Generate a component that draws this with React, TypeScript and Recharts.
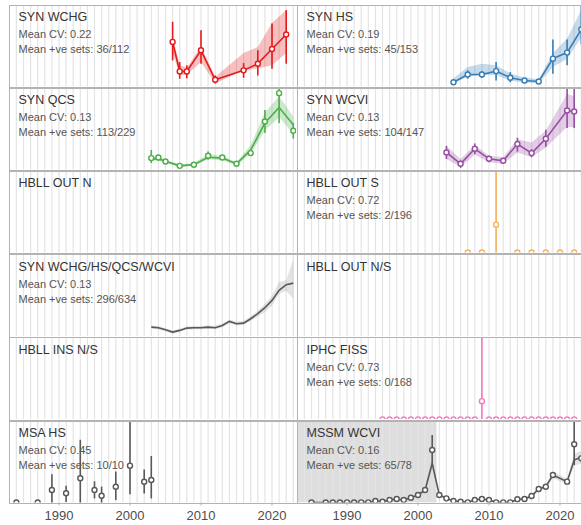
import React from 'react';
import { ComposedChart, Line, Area, XAxis, YAxis, ErrorBar, ReferenceLine, ReferenceArea } from 'recharts';

const X_MIN = 1983.1;
const X_MAX = 2023.45;
const AXIS_TICKS = [1990, 2000, 2010, 2020];
const GRID_YEARS = [1984, 1985, 1986, 1987, 1988, 1989, 1990, 1991, 1992, 1993, 1994, 1995, 1996, 1997, 1998, 1999, 2000, 2001, 2002, 2003, 2004, 2005, 2006, 2007, 2008, 2009, 2010, 2011, 2012, 2013, 2014, 2015, 2016, 2017, 2018, 2019, 2020, 2021, 2022, 2023];

// ---- SYN WCHG ----
const wchgYears = [2006, 2007, 2008, 2010, 2012, 2016, 2018, 2020, 2022];
const wchgPt = [54.7, 18.5, 18.5, 44.4, 8.3, 19.8, 28, 46, 63.8];
const wchgPtLo = [32, 9.5, 10, 28, 3.7, 10.7, 13.6, 21.9, 28];
const wchgPtHi = [79.4, 30, 26, 69, 13.6, 28.8, 44.4, 77.4, 93.8];
const wchgLine = [54.7, 18.5, 18.5, 44.4, 8.3, 19.8, 28, 46, 63.8];
const wchgLo = [42, 14, 14, 30, 4, 20, 22, 26, 41];
const wchgHi = [61, 26, 23, 49, 12, 41, 48.5, 78, 94];

// ---- SYN HS ----
const hsYears = [2005, 2007, 2009, 2011, 2013, 2015, 2017, 2019, 2021, 2023];
const hsPt = [5.3, 14.8, 14.8, 18.9, 10.7, 7.4, 6.2, 34.2, 41.6, 70];
const hsPtLo = [3, 9.5, 10.5, 7.4, 5.3, 5, 4, 15.7, 26, 52];
const hsPtHi = [8, 19.8, 19, 30, 17.7, 10, 8.5, 57.7, 57.7, 115];
const hsLine = [5.3, 14.8, 14.8, 18.9, 10.7, 7.4, 6.2, 34.2, 41.6, 70];
const hsLo = [4, 12, 14, 14, 7, 5, 4, 24, 34, 60];
const hsHi = [10, 24, 28, 26, 16, 11, 9, 41, 59, 94];

// ---- SYN QCS ----
const qcsYears = [2003, 2004, 2005, 2007, 2009, 2011, 2013, 2015, 2017, 2019, 2021, 2023];
const qcsPt = [14, 14.7, 9.8, 4.5, 5.8, 16.8, 14.7, 7, 20.1, 58.9, 93.7, 47.5];
const qcsPtLo = [7.9, 11, 7, 2.5, 4, 12, 12, 5, 17, 44.7, 57, 38];
const qcsPtHi = [24, 18, 12, 6.5, 8, 22, 17.5, 9, 24, 73, 105, 57];
const qcsLine = [13, 13, 10, 4.5, 6, 15, 14, 7, 24, 57, 76, 55];
const qcsLo = [11, 11, 8, 3, 4.5, 12.5, 11.5, 5, 19, 48, 64, 44];
const qcsHi = [16, 16, 12, 6.5, 8, 19, 17, 9, 30, 70, 90, 65];

// ---- SYN WCVI ----
const wcviYears = [2004, 2006, 2008, 2010, 2012, 2014, 2016, 2018, 2021, 2022];
const wcviPt = [20.9, 7, 25.4, 13.1, 10.7, 31.2, 20.1, 37.7, 72.4, 71.2];
const wcviPtLo = [13, 2, 19, 9, 7, 22, 15, 28, 50.8, 50.8];
const wcviPtHi = [29, 11, 32, 17, 14, 39, 25, 48.7, 105, 105];
const wcviLine = [20.9, 7, 25.4, 13.1, 10.7, 31.2, 20.1, 37.7, 72.4, 71.2];
const wcviLo = [13, 3, 18, 9, 7, 21, 15, 27, 52, 52];
const wcviHi = [29, 13, 30, 17, 15, 37, 33, 48, 93, 90];

// ---- HBLL OUT S ----
const hbllSYears = [2007, 2009, 2011, 2014, 2016, 2018, 2020, 2022];
const hbllSPt = [0, 0, 34.2, 0, 0, 0, 0, 0];
const hbllSPtLo = [0, 0, 0, 0, 0, 0, 0, 0];
const hbllSPtHi = [0, 0, 110, 0, 0, 0, 0, 0];

// ---- SYN WCHG/HS/QCS/WCVI ----
const synYears = [2003, 2004, 2005, 2006, 2007, 2008, 2009, 2010, 2011, 2012, 2013, 2014, 2015, 2016, 2017, 2018, 2019, 2020, 2021, 2022, 2023];
const synLine = [11.5, 10.8, 8.3, 5.4, 7.5, 10.3, 10.8, 10.8, 11.5, 10.8, 13.6, 18.5, 15.7, 16.4, 21.8, 28, 35.3, 44.3, 56.6, 63.6, 65.5];
const synLo = [9.5, 9, 6.5, 3.5, 5.5, 8.5, 9, 9, 9.5, 9, 11.5, 16, 13.5, 14, 19, 24.5, 30, 38, 52, 56, 46];
const synHi = [13.5, 12.8, 10, 7.5, 9.5, 12.3, 12.8, 13, 13.5, 12.8, 15.8, 21, 18, 19, 25, 31.5, 40, 50, 67, 69, 95];

// ---- IPHC FISS ----
const iphcYears = [1995, 1996, 1997, 1998, 1999, 2000, 2001, 2002, 2003, 2004, 2005, 2006, 2007, 2008, 2009, 2010, 2011, 2012, 2013, 2014, 2015, 2016, 2017, 2018, 2019, 2020, 2021, 2022];
const iphcPt = [0, 0, 0, 0, 0, 0, 0, 0, 0, 0, 0, 0, 0, 0, 22.5, 0, 0, 0, 0, 0, 0, 0, 0, 0, 0, 0, 0, 0];
const iphcPtLo = [0, 0, 0, 0, 0, 0, 0, 0, 0, 0, 0, 0, 0, 0, 0, 0, 0, 0, 0, 0, 0, 0, 0, 0, 0, 0, 0, 0];
const iphcPtHi = [0, 0, 0, 0, 0, 0, 0, 0, 0, 0, 0, 0, 0, 0, 110, 0, 0, 0, 0, 0, 0, 0, 0, 0, 0, 0, 0, 0];

// ---- MSA HS ----
const msaYears = [1984, 1987, 1989, 1991, 1993, 1995, 1996, 1998, 2000, 2002, 2003];
const msaPt = [0, 0, 15.3, 11.3, 29.7, 15.3, 8.3, 19.4, 45.2, 25.5, 27.6];
const msaPtLo = [0, 0, 0, 0.5, 0, 5, 0, 3, 10, 11, 5];
const msaPtHi = [0, 0, 34.7, 20.6, 77, 26, 19.5, 38, 100, 40.5, 57];

// ---- MSSM WCVI ----
const mssmYears = [1985, 1987, 1988, 1989, 1990, 1991, 1992, 1993, 1994, 1995, 1996, 1997, 1998, 1999, 2000, 2001, 2002, 2003, 2004, 2005, 2006, 2007, 2008, 2009, 2010, 2011, 2012, 2013, 2014, 2015, 2016, 2017, 2018, 2019, 2021, 2022, 2023];
const mssmPt = [0, 0, 0, 0, 0.2, 0, 0.2, 0.2, 1.8, 1, 3.1, 4.3, 3.1, 5.9, 9.2, 15.3, 64.4, 9.2, 5.1, 1.8, 1, 0.2, 3.1, 4.3, 3.1, 0.2, 0.2, 0.2, 3.9, 4.3, 8, 16.6, 19.4, 33.7, 25.6, 71.4, 54.2];
const mssmPtLo = [0, 0, 0, 0, 0.2, 0, 0.2, 0.2, 1.8, 1, 3.1, 4.3, 3.1, 5.9, 9.2, 15.3, 46, 9.2, 5.1, 1.8, 1, 0.2, 3.1, 4.3, 3.1, 0.2, 0.2, 0.2, 3.9, 4.3, 8, 16.6, 19.4, 33.7, 25.6, 46, 54.2];
const mssmPtHi = [0, 0, 0, 0, 0.2, 0, 0.2, 0.2, 1.8, 1, 3.1, 4.3, 3.1, 5.9, 9.2, 15.3, 82.8, 9.2, 5.1, 1.8, 1, 0.2, 3.1, 4.3, 3.1, 0.2, 0.2, 0.2, 3.9, 4.3, 8, 16.6, 19.4, 33.7, 25.6, 105, 54.2];
const mssmLine = [0, 0, 0, 0, 0.2, 0, 0.2, 0.2, 1.8, 1, 3.1, 4.3, 3.1, 5.9, 9.2, 15.3, 48, 9.2, 5.1, 1.8, 1, 0.2, 3.1, 4.3, 3.1, 0.2, 0.2, 0.2, 3.9, 4.3, 8, 16.6, 19.4, 33.7, 25.6, 52, 56];
const mssmLo = [0, 0, 0, 0, 0, 0, 0, 0, 1, 0.5, 2, 3, 2, 4.5, 7.5, 13, 42, 7.5, 4, 1, 0.5, 0, 2, 3, 2, 0, 0, 0, 3, 3, 6.5, 14.5, 17, 30, 22, 45, 48];
const mssmHi = [1, 1, 1, 1, 1.2, 1, 1.2, 1.2, 3, 2.5, 4.5, 6, 4.5, 7.5, 11, 18, 55, 11, 6.5, 3, 2.5, 1.5, 4.5, 6, 4.5, 1.5, 1.5, 1.5, 5.5, 6, 10, 19, 22, 38, 29, 60, 63];
const mssmShadeTo = 2002.6;

type Panel = {
  title: string;
  cv?: string;
  sets?: string;
  col: number;
  row: number;
  color: string;
  years?: number[];
  pt?: number[];
  ptLo?: number[];
  ptHi?: number[];
  line?: number[];
  lo?: number[];
  hi?: number[];
  shadeTo?: number;
};

const panels: Panel[] = [
  { title: 'SYN WCHG', cv: 'Mean CV: 0.22', sets: 'Mean +ve sets: 36/112', col: 0, row: 0, color: '#E41A1C', years: wchgYears, pt: wchgPt, ptLo: wchgPtLo, ptHi: wchgPtHi, line: wchgLine, lo: wchgLo, hi: wchgHi },
  { title: 'SYN HS', cv: 'Mean CV: 0.19', sets: 'Mean +ve sets: 45/153', col: 1, row: 0, color: '#377EB8', years: hsYears, pt: hsPt, ptLo: hsPtLo, ptHi: hsPtHi, line: hsLine, lo: hsLo, hi: hsHi },
  { title: 'SYN QCS', cv: 'Mean CV: 0.13', sets: 'Mean +ve sets: 113/229', col: 0, row: 1, color: '#4DAF4A', years: qcsYears, pt: qcsPt, ptLo: qcsPtLo, ptHi: qcsPtHi, line: qcsLine, lo: qcsLo, hi: qcsHi },
  { title: 'SYN WCVI', cv: 'Mean CV: 0.13', sets: 'Mean +ve sets: 104/147', col: 1, row: 1, color: '#984EA3', years: wcviYears, pt: wcviPt, ptLo: wcviPtLo, ptHi: wcviPtHi, line: wcviLine, lo: wcviLo, hi: wcviHi },
  { title: 'HBLL OUT N', col: 0, row: 2, color: '#FF7F00' },
  { title: 'HBLL OUT S', cv: 'Mean CV: 0.72', sets: 'Mean +ve sets: 2/196', col: 1, row: 2, color: '#F7B25E', years: hbllSYears, pt: hbllSPt, ptLo: hbllSPtLo, ptHi: hbllSPtHi },
  { title: 'SYN WCHG/HS/QCS/WCVI', cv: 'Mean CV: 0.13', sets: 'Mean +ve sets: 296/634', col: 0, row: 3, color: '#595959', years: synYears, line: synLine, lo: synLo, hi: synHi },
  { title: 'HBLL OUT N/S', col: 1, row: 3, color: '#595959' },
  { title: 'HBLL INS N/S', col: 0, row: 4, color: '#595959' },
  { title: 'IPHC FISS', cv: 'Mean CV: 0.73', sets: 'Mean +ve sets: 0/168', col: 1, row: 4, color: '#F07CC0', years: iphcYears, pt: iphcPt, ptLo: iphcPtLo, ptHi: iphcPtHi },
  { title: 'MSA HS', cv: 'Mean CV: 0.45', sets: 'Mean +ve sets: 10/10', col: 0, row: 5, color: '#595959', years: msaYears, pt: msaPt, ptLo: msaPtLo, ptHi: msaPtHi },
  { title: 'MSSM WCVI', cv: 'Mean CV: 0.16', sets: 'Mean +ve sets: 65/78', col: 1, row: 5, color: '#595959', years: mssmYears, pt: mssmPt, ptLo: mssmPtLo, ptHi: mssmPtHi, line: mssmLine, lo: mssmLo, hi: mssmHi, shadeTo: mssmShadeTo },
];

const COL_X = [9.5, 297.5];
const ROW_Y = [5, 88.2, 171.4, 254.6, 337.8, 421];
const PANEL_W = 286.5;
const PANEL_H = 81.5;
const AXIS_H = 24;
const FONT = '"Liberation Sans", Arial, Helvetica, sans-serif';

function buildData(p: Panel) {
  if (!p.years) return [{ year: X_MIN }, { year: X_MAX }];
  return p.years.map((year, i) => {
    const d: any = { year };
    if (p.pt) {
      d.pt = p.pt[i];
      d.err = [p.pt[i] - (p.ptLo ? p.ptLo[i] : p.pt[i]), (p.ptHi ? p.ptHi[i] : p.pt[i]) - p.pt[i]];
    }
    if (p.line) d.line = p.line[i];
    if (p.lo && p.hi) d.band = [p.lo[i], p.hi[i]];
    return d;
  });
}

function PanelView({ p }: { p: Panel }) {
  const left = COL_X[p.col];
  const top = ROW_Y[p.row];
  const bottomRow = p.row === 5;
  const h = PANEL_H + (bottomRow ? AXIS_H : 0);
  const data = buildData(p);
  const margin = { top: 0, right: 0, bottom: 0, left: 0 };
  const ribbon = p.color === '#595959' ? '#9a9a9a' : p.color;

  return (
    <>
      <div style={{ position: 'absolute', left, top, width: PANEL_W, height: h }}>
        <ComposedChart width={PANEL_W} height={h} data={data} margin={margin}>
          <XAxis
            type="number"
            dataKey="year"
            domain={[X_MIN, X_MAX]}
            allowDataOverflow
            hide={!bottomRow}
            ticks={AXIS_TICKS}
            height={AXIS_H}
            axisLine={false}
            tickLine={{ stroke: '#b3b3b3' }}
            tickSize={3}
            tickMargin={5}
            tick={{ fontSize: 13, fill: '#4d4d4d', fontFamily: FONT }}
          />
          <YAxis hide domain={[0, 100]} allowDataOverflow />
          {p.shadeTo !== undefined && (
            <ReferenceArea x1={X_MIN} x2={p.shadeTo} y1={0} y2={100} fill="#d6d6d6" fillOpacity={0.8} stroke="none" ifOverflow="hidden" />
          )}
          {GRID_YEARS.map((y) => (
            <ReferenceLine key={y} x={y} stroke="#e4e4e4" strokeWidth={1.2} />
          ))}
        </ComposedChart>
      </div>
      <div style={{ position: 'absolute', left: left + 9, top: top + 6, fontFamily: FONT, fontSize: 12.5, lineHeight: '12.5px', color: '#333333', whiteSpace: 'nowrap' }}>
        {p.title}
      </div>
      {p.cv && (
        <div style={{ position: 'absolute', left: left + 9, top: top + 24, fontFamily: FONT, fontSize: 11, lineHeight: '11px', color: '#555555', whiteSpace: 'nowrap' }}>
          {p.cv}
        </div>
      )}
      {p.sets && (
        <div style={{ position: 'absolute', left: left + 9, top: top + 39, fontFamily: FONT, fontSize: 11, lineHeight: '11px', color: '#555555', whiteSpace: 'nowrap' }}>
          {p.sets}
        </div>
      )}
      <div style={{ position: 'absolute', left, top, width: PANEL_W, height: PANEL_H, overflow: 'hidden' }}>
        <ComposedChart width={PANEL_W} height={h} data={data} margin={margin}>
          <XAxis
            type="number"
            dataKey="year"
            domain={[X_MIN, X_MAX]}
            allowDataOverflow
            hide={!bottomRow}
            height={AXIS_H}
            axisLine={false}
            tickLine={false}
            tick={false}
          />
          <YAxis hide domain={[0, 100]} allowDataOverflow />
          {p.lo && (
            <Area
              type="linear"
              dataKey="band"
              stroke="none"
              fill={ribbon}
              fillOpacity={0.28}
              isAnimationActive={false}
              connectNulls
            />
          )}
          {p.line && (
            <Line
              type="linear"
              dataKey="line"
              stroke={p.color}
              strokeWidth={1.6}
              dot={false}
              isAnimationActive={false}
              connectNulls
            />
          )}
          {p.pt && (
            <Line
              type="linear"
              dataKey="pt"
              stroke="none"
              dot={{ r: 2.5, fill: '#ffffff', stroke: p.color, strokeWidth: 1.4 }}
              isAnimationActive={false}
            >
              <ErrorBar dataKey="err" width={0} stroke={p.color} strokeWidth={1.6} direction="y" />
            </Line>
          )}
        </ComposedChart>
      </div>
      <div style={{ position: 'absolute', left: left - 0.5, top: top - 0.5, width: PANEL_W, height: PANEL_H, border: '1px solid #b3b3b3', pointerEvents: 'none' }} />
    </>
  );
}

export default function App() {
  return (
    <div style={{ position: 'fixed', left: 0, top: 0, width: 581, height: 525, overflow: 'hidden', background: '#ffffff' }}>
      {panels.map((p) => (
        <PanelView key={p.title} p={p} />
      ))}
    </div>
  );
}
